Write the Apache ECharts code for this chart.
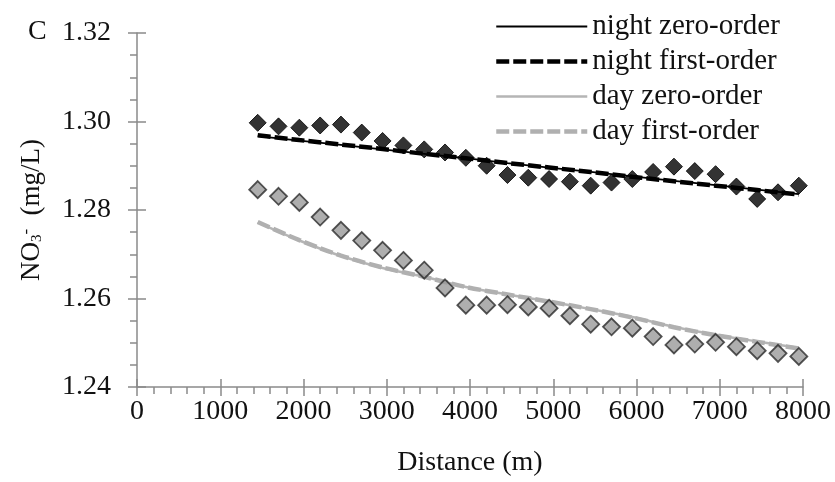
<!DOCTYPE html>
<html>
<head>
<meta charset="utf-8">
<script src="https://cdn.jsdelivr.net/npm/echarts@6/dist/echarts.min.js"></script>
<style>
  html, body { margin: 0; padding: 0; background: #fff; }
  #chart { width: 835px; height: 482px; }
</style>
</head>
<body>
<div id="chart"></div>
<script>
// Sampling distances along the reach (m)
const distance = [1450, 1700, 1950, 2200, 2450, 2700, 2950, 3200, 3450, 3700, 3950, 4200, 4450,
  4700, 4950, 5200, 5450, 5700, 5950, 6200, 6450, 6700, 6950, 7200, 7450, 7700, 7950];

// Measured NO3- concentrations (mg/L)
const nightObserved = [1.2997, 1.2989, 1.2986, 1.2991, 1.2993, 1.2975, 1.2956, 1.2946, 1.2937, 1.2930,
  1.2918, 1.2900, 1.2879, 1.2873, 1.2870, 1.2864, 1.2855, 1.2862, 1.2870, 1.2886, 1.2898, 1.2888,
  1.2881, 1.2853, 1.2825, 1.2840, 1.2855];
const dayObserved = [1.2846, 1.2831, 1.2817, 1.2784, 1.2754, 1.2731, 1.2709, 1.2686, 1.2664, 1.2624,
  1.2585, 1.2585, 1.2586, 1.2581, 1.2578, 1.2561, 1.2542, 1.2536, 1.2533, 1.2514, 1.2495, 1.2497,
  1.2501, 1.2491, 1.2482, 1.2476, 1.2469];

// Model curves
const modelDistance = [1450, 1950, 2450, 2950, 3450, 3950, 4450, 4950, 5450, 5950, 6450, 6950, 7450, 7950];
const nightZeroOrder = [1.2967, 1.2957, 1.2947, 1.2937, 1.2927, 1.2917, 1.2906, 1.2896, 1.2886, 1.2876,
  1.2866, 1.2856, 1.2846, 1.2836];
const nightFirstOrder = [1.2969, 1.2958, 1.2948, 1.2938, 1.2927, 1.2917, 1.2906, 1.2896, 1.2886, 1.2875,
  1.2865, 1.2855, 1.2845, 1.2835];
const dayZeroOrder = [1.2772, 1.2731, 1.2696, 1.2669, 1.2649, 1.2626, 1.2609, 1.2593, 1.2576, 1.2558,
  1.2536, 1.2518, 1.2503, 1.2488];
const dayFirstOrder = [1.2773, 1.2732, 1.2697, 1.2670, 1.2649, 1.2626, 1.2609, 1.2593, 1.2576, 1.2557,
  1.2535, 1.2517, 1.2502, 1.2487];

const xTicks = { min: 0, max: 8000, interval: 1000 };
const yTicks = { min: 1.24, max: 1.32, interval: 0.02 };

const pair = (xs, ys) => xs.map((x, i) => [x, ys[i]]);

const FONT = 'Liberation Serif';
const TXT = '#111';
const AXIS = '#8a8a8a';

const chart = echarts.init(document.getElementById('chart'), null, { renderer: 'canvas' });

const baseX = {
  type: 'value', min: xTicks.min, max: xTicks.max, interval: xTicks.interval,
  splitLine: { show: false }
};
const baseY = {
  type: 'value', min: yTicks.min, max: yTicks.max, interval: yTicks.interval,
  splitLine: { show: false }
};

chart.setOption({
  animation: false,
  backgroundColor: '#fff',
  grid: { left: 137, right: 32, top: 33, bottom: 93 },
  graphic: [{
    type: 'text', left: 28, top: 18,
    style: { text: 'C', font: '28px "Liberation Serif"', fill: TXT }
  }],
  legend: {
    orient: 'vertical', left: 489, top: 7,
    itemWidth: 91, itemHeight: 14, itemGap: 6,
    itemStyle: { opacity: 0 },
    lineStyle: { width: 'inherit' },
    textStyle: { fontFamily: FONT, fontSize: 29, color: TXT, lineHeight: 29 },
    data: ['night zero-order', 'night first-order', 'day zero-order', 'day first-order']
  },
  xAxis: [
    Object.assign({}, baseX, {
      position: 'bottom',
      name: 'Distance (m)', nameLocation: 'middle', nameGap: 62,
      nameTextStyle: { fontFamily: FONT, fontSize: 28, color: TXT },
      axisLine: { show: true, lineStyle: { color: AXIS, width: 1.5 } },
      axisTick: { show: true, length: 9, lineStyle: { color: AXIS, width: 1.5 } },
      minorTick: { show: true, splitNumber: 5, length: 7, lineStyle: { color: AXIS, width: 1.5 } },
      axisLabel: { fontFamily: FONT, fontSize: 28, color: TXT, margin: 11, formatter: v => String(v) }
    }),
    Object.assign({}, baseX, {
      position: 'bottom',
      axisLine: { show: false },
      axisTick: { show: true, inside: true, length: 8, lineStyle: { color: AXIS, width: 1.5 } },
      axisLabel: { show: false }
    })
  ],
  yAxis: [
    Object.assign({}, baseY, {
      position: 'left',
      name: '{a|NO}{s|3}{p|-}{a|  (mg/L)}', nameLocation: 'middle', nameRotate: 90, nameGap: 92,
      nameTextStyle: {
        fontFamily: FONT, color: TXT,
        rich: {
          a: { fontFamily: FONT, fontSize: 27, color: TXT },
          s: { fontFamily: FONT, fontSize: 15, color: TXT, verticalAlign: 'bottom', padding: [10, 0, 0, 0] },
          p: { fontFamily: FONT, fontSize: 17, color: TXT, verticalAlign: 'top', padding: [0, 0, 10, 0] }
        }
      },
      axisLine: { show: true, lineStyle: { color: AXIS, width: 1.5 } },
      axisTick: { show: true, length: 9, lineStyle: { color: AXIS, width: 1.5 } },
      minorTick: { show: true, splitNumber: 4, length: 7, lineStyle: { color: AXIS, width: 1.5 } },
      axisLabel: {
        fontFamily: FONT, fontSize: 28, color: TXT, margin: 26,
        formatter: v => v.toFixed(2)
      }
    }),
    Object.assign({}, baseY, {
      position: 'left',
      axisLine: { show: false },
      axisTick: { show: true, inside: true, length: 9, lineStyle: { color: AXIS, width: 1.5 } },
      axisLabel: { show: false }
    })
  ],
  series: [
    {
      name: 'day zero-order', type: 'line', data: pair(modelDistance, dayZeroOrder),
      symbol: 'none', smooth: 0.3, z: 2,
      lineStyle: { color: '#b5b5b5', width: 2.5 }, itemStyle: { color: '#b5b5b5' }
    },
    {
      name: 'day first-order', type: 'line', data: pair(modelDistance, dayFirstOrder),
      symbol: 'none', smooth: 0.3, z: 2,
      lineStyle: { color: '#b0b0b0', width: 4.5, type: [13, 4] }, itemStyle: { color: '#b0b0b0' }
    },
    {
      name: 'day observed', type: 'scatter', data: pair(distance, dayObserved),
      symbol: 'diamond', symbolSize: 17, z: 3,
      itemStyle: { color: '#9a9a9a', borderColor: '#2a2a2a', borderWidth: 1.8 }
    },
    {
      name: 'night zero-order', type: 'line', data: pair(modelDistance, nightZeroOrder),
      symbol: 'none', z: 4,
      lineStyle: { color: '#000', width: 1.8 }, itemStyle: { color: '#000' }
    },
    {
      name: 'night first-order', type: 'line', data: pair(modelDistance, nightFirstOrder),
      symbol: 'none', z: 4,
      lineStyle: { color: '#000', width: 4.5, type: [13, 4] }, itemStyle: { color: '#000' }
    },
    {
      name: 'night observed', type: 'scatter', data: pair(distance, nightObserved),
      symbol: 'diamond', symbolSize: 17, z: 5,
      itemStyle: { color: '#000', borderColor: '#000', borderWidth: 1 }
    }
  ]
});
</script>
</body>
</html>
